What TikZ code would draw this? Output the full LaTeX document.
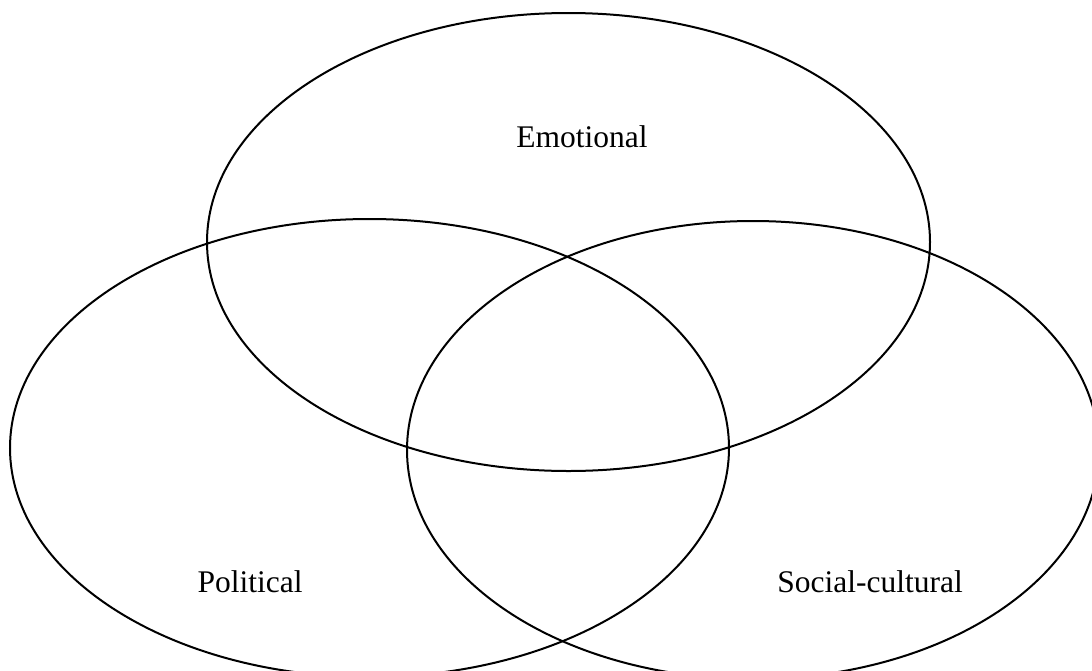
\documentclass[tikz,border=0pt]{standalone}
\usepackage{fontspec}
\setmainfont{Liberation Serif}
\begin{document}
\begin{tikzpicture}[x=1pt,y=-1pt,
  venn/.style={draw=black,line width=2pt},
  lbl/.style={anchor=base,font=\fontsize{31.5}{36}\selectfont,inner sep=0pt}]
\useasboundingbox (0,0) rectangle (1092,670);
\draw[venn] (568.5,242) ellipse [x radius=361.5, y radius=229];
\draw[venn] (369.5,448) ellipse [x radius=359.5, y radius=229];
\draw[venn] (753,450) ellipse [x radius=346, y radius=229];
\node[lbl] (emo) at (582,147) {Emotional};
\node[lbl] (pol) at (250,592) {Political};
\node[lbl] (soc) at (870,592) {Social-cultural};
\end{tikzpicture}
\end{document}
